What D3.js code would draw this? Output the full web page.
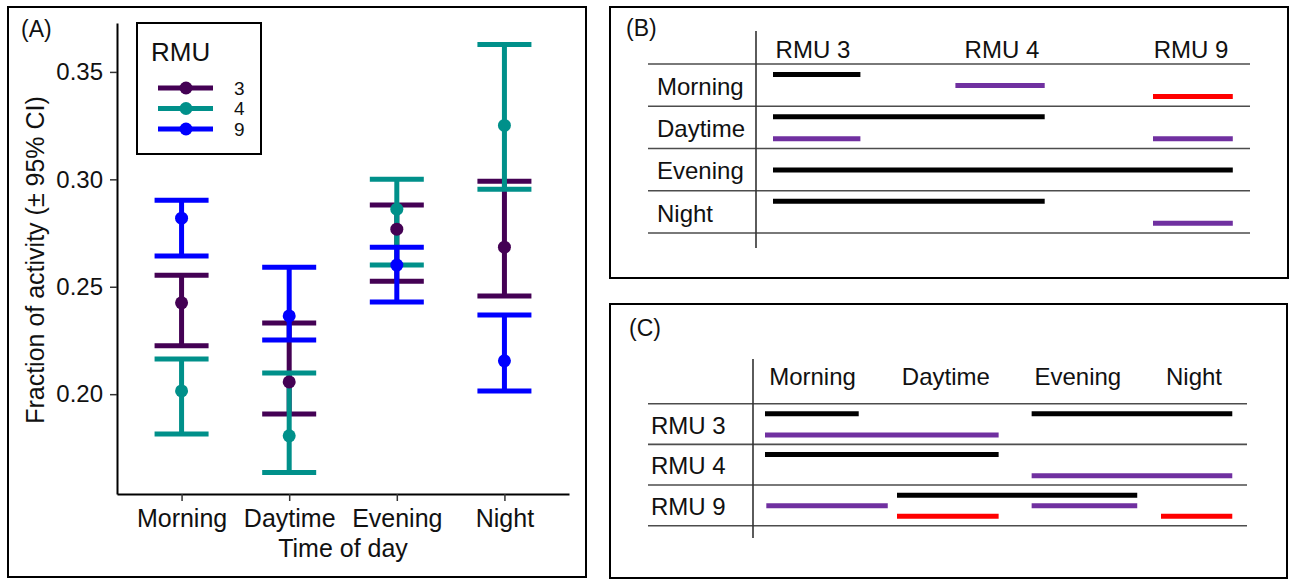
<!DOCTYPE html>
<html>
<head>
<meta charset="utf-8">
<script src="https://cdn.jsdelivr.net/npm/d3@7"></script>
<style>
  body { margin: 0; background: #fff; }
  svg { display: block; font-family: "Liberation Sans", Arial, sans-serif; }
</style>
</head>
<body>
<svg id="chart" width="1295" height="579"></svg>
<script>
// ---- data (A): fraction of activity, mean and 95% CI ----
const timeOfDay = ['Morning', 'Daytime', 'Evening', 'Night'];
const rmuIds = ['3', '4', '9'];
const yTicks = [0.20, 0.25, 0.30, 0.35];

const mean3  = [0.2425, 0.2057, 0.2768, 0.2684];
const lower3 = [0.2225, 0.1908, 0.2526, 0.2457];
const upper3 = [0.2554, 0.2331, 0.2880, 0.2991];

const mean4  = [0.2015, 0.1806, 0.2861, 0.3251];
const lower4 = [0.1815, 0.1635, 0.2601, 0.2954];
const upper4 = [0.2164, 0.2099, 0.3000, 0.3628];

const mean9  = [0.2819, 0.2364, 0.2601, 0.2155];
const lower9 = [0.2643, 0.2252, 0.2429, 0.2015];
const upper9 = [0.2903, 0.2591, 0.2684, 0.2368];

// ---- data (B): subsets per time of day, spans in RMU-column units ----
const bColumns = ['RMU 3', 'RMU 4', 'RMU 9'];
const bColumnAt = [0.21, 1.205, 2.2];
const bSegments = [
  { row: 'Morning', group: 'a', from: 0,    to: 0.46 },
  { row: 'Morning', group: 'b', from: 0.96, to: 1.43 },
  { row: 'Morning', group: 'c', from: 2.0,  to: 2.42 },
  { row: 'Daytime', group: 'a', from: 0,    to: 1.43 },
  { row: 'Daytime', group: 'b', from: 0,    to: 0.46 },
  { row: 'Daytime', group: 'b', from: 2.0,  to: 2.42 },
  { row: 'Evening', group: 'a', from: 0,    to: 2.42 },
  { row: 'Night',   group: 'a', from: 0,    to: 1.43 },
  { row: 'Night',   group: 'b', from: 2.0,  to: 2.42 }
];

// ---- data (C): subsets per RMU, spans in time-of-day column units ----
const cRows = ['RMU 3', 'RMU 4', 'RMU 9'];
const cColumnAt = [0.36, 1.37, 2.37, 3.25];
const cSegments = [
  { row: 'RMU 3', group: 'a', from: 0,    to: 0.71 },
  { row: 'RMU 3', group: 'a', from: 2.02, to: 3.54 },
  { row: 'RMU 3', group: 'b', from: 0,    to: 1.77 },
  { row: 'RMU 4', group: 'a', from: 0,    to: 1.77 },
  { row: 'RMU 4', group: 'b', from: 2.02, to: 3.54 },
  { row: 'RMU 9', group: 'a', from: 1.0,  to: 2.82 },
  { row: 'RMU 9', group: 'b', from: 0.01, to: 0.93 },
  { row: 'RMU 9', group: 'b', from: 2.02, to: 2.82 },
  { row: 'RMU 9', group: 'c', from: 1.0,  to: 1.77 },
  { row: 'RMU 9', group: 'c', from: 3.0,  to: 3.54 }
];

const svg = d3.select('#chart');
const txt = '#111';

// frames round the three panels
const frames = [[8, 7, 578, 570], [610, 7, 678, 271], [610, 304, 677, 274]];
svg.selectAll('rect.frame').data(frames).join('rect')
  .attr('class', 'frame')
  .attr('x', d => d[0]).attr('y', d => d[1])
  .attr('width', d => d[2]).attr('height', d => d[3])
  .attr('fill', 'none').attr('stroke', '#000').attr('stroke-width', 2);

// ================= Panel A =================
const series = rmuIds.map((id, k) => {
  const m = [mean3, mean4, mean9][k], lo = [lower3, lower4, lower9][k], hi = [upper3, upper4, upper9][k];
  return { id: id, values: timeOfDay.map((t, i) => ({ time: t, mean: m[i], lo: lo[i], hi: hi[i] })) };
});

const allVals = series.flatMap(s => s.values.flatMap(v => [v.lo, v.hi]));
const [vMin, vMax] = d3.extent(allVals);
const pad = (vMax - vMin) * 0.05;

const x = d3.scalePoint().domain(timeOfDay).range([117, 569]).padding(0.6);
const y = d3.scaleLinear().domain([vMin - pad, vMax + pad]).range([494, 23]);
const colour = d3.scaleOrdinal().domain(rmuIds).range(['#440154', '#00908a', '#0000ff']);

const gA = svg.append('g');

const yAxis = gA.append('g')
  .attr('transform', 'translate(117,0)')
  .call(d3.axisLeft(y).tickValues(yTicks).tickFormat(d3.format('.2f')).tickSize(7).tickSizeOuter(0).tickPadding(7));
const xAxis = gA.append('g')
  .attr('transform', 'translate(0,494)')
  .call(d3.axisBottom(x).tickSize(7).tickSizeOuter(0).tickPadding(8));

[yAxis, xAxis].forEach(ax => {
  ax.select('.domain').attr('stroke', '#000').attr('stroke-width', 2);
  ax.selectAll('.tick line').attr('stroke', '#333').attr('stroke-width', 1.5);
  ax.selectAll('.tick text').attr('fill', txt)
    .style('font-family', '"Liberation Sans", Arial, sans-serif');
});
yAxis.selectAll('.tick text').style('font-size', '24px');
xAxis.selectAll('.tick text').style('font-size', '25px');

gA.append('text')
  .attr('x', 343).attr('y', 557).attr('text-anchor', 'middle')
  .attr('fill', txt).style('font-size', '25px')
  .text('Time of day');

gA.append('text')
  .attr('transform', 'translate(44,260) rotate(-90)')
  .attr('text-anchor', 'middle')
  .attr('fill', txt).style('font-size', '25px')
  .text('Fraction of activity (± 95% CI)');

gA.append('text')
  .attr('x', 21).attr('y', 37)
  .attr('fill', txt).style('font-size', '23px')
  .text('(A)');

// error bars first, then the points on top
const capHalf = 27;
const bars = gA.append('g').selectAll('g').data(series).join('g')
  .attr('stroke', d => colour(d.id)).attr('stroke-width', 5).attr('fill', 'none');
bars.selectAll('path').data(d => d.values).join('path')
  .attr('d', v => {
    const cx = x(v.time), y0 = y(v.lo), y1 = y(v.hi);
    return `M${cx - capHalf},${y1}H${cx + capHalf}M${cx},${y1}V${y0}M${cx - capHalf},${y0}H${cx + capHalf}`;
  });

gA.append('g').selectAll('g').data(series).join('g')
  .attr('fill', d => colour(d.id))
  .selectAll('circle').data(d => d.values).join('circle')
  .attr('cx', v => x(v.time)).attr('cy', v => y(v.mean)).attr('r', 6.5);

// legend
const lg = gA.append('g');
lg.append('rect').attr('x', 137).attr('y', 23).attr('width', 124).attr('height', 131)
  .attr('fill', '#fff').attr('stroke', '#000').attr('stroke-width', 2);
lg.append('text').attr('x', 151).attr('y', 61).attr('fill', txt).style('font-size', '26px').text('RMU');
const keyY = d3.scalePoint().domain(rmuIds).range([88, 129]);
const keys = lg.selectAll('g.key').data(rmuIds).join('g').attr('class', 'key');
keys.append('line')
  .attr('x1', 158).attr('x2', 213).attr('y1', d => keyY(d)).attr('y2', d => keyY(d))
  .attr('stroke', d => colour(d)).attr('stroke-width', 5);
keys.append('circle').attr('cx', 186).attr('cy', d => keyY(d)).attr('r', 6.5).attr('fill', d => colour(d));
keys.append('text').attr('x', 234).attr('y', d => keyY(d)).attr('dy', '0.36em')
  .attr('fill', txt).style('font-size', '19px').text(d => d);

// ================= Panels B and C (subset tables) =================
const groupColour = d3.scaleOrdinal().domain(['a', 'b', 'c']).range(['#000000', '#7030a0', '#ff0000']);

function subsetTable(opt) {
  const g = svg.append('g');
  const yRow = d3.scaleBand().domain(opt.rows).range(opt.rowRange);
  const xs = d3.scaleLinear().domain(opt.xDomain).range(opt.xRange);

  // horizontal rules: header line plus one under each row
  const rules = [opt.rowRange[0]].concat(opt.rows.map(r => yRow(r) + yRow.bandwidth()));
  g.selectAll('line.rule').data(rules).join('line')
    .attr('x1', opt.ruleX[0]).attr('x2', opt.ruleX[1])
    .attr('y1', d => d).attr('y2', d => d)
    .attr('stroke', '#4d4d4d').attr('stroke-width', 1.6);
  g.append('line')
    .attr('x1', opt.divider[0]).attr('x2', opt.divider[0])
    .attr('y1', opt.divider[1]).attr('y2', opt.divider[2])
    .attr('stroke', '#333').attr('stroke-width', 1.6);

  g.selectAll('text.head').data(opt.columns).join('text')
    .attr('x', (d, i) => xs(opt.columnAt[i])).attr('y', opt.headY).attr('dy', '0.36em')
    .attr('text-anchor', 'middle').attr('fill', txt).style('font-size', '24px')
    .text(d => d);
  g.selectAll('text.rowlab').data(opt.rows).join('text')
    .attr('x', opt.rowLabelX).attr('y', d => yRow(d) + yRow.bandwidth() / 2 + 1).attr('dy', '0.36em')
    .attr('fill', txt).style('font-size', '24px')
    .text(d => d);
  g.append('text').attr('x', opt.tag[0]).attr('y', opt.tag[1])
    .attr('fill', txt).style('font-size', '23px').text(opt.tag[2]);

  // segment level inside its row depends on how many subsets the row has
  const byRow = d3.group(opt.segments, d => d.row);
  g.selectAll('line.seg').data(opt.segments).join('line')
    .attr('x1', d => xs(d.from)).attr('x2', d => xs(d.to))
    .attr('y1', d => levelY(d)).attr('y2', d => levelY(d))
    .attr('stroke', d => groupColour(d.group)).attr('stroke-width', 5);

  function levelY(d) {
    const groups = Array.from(new Set(byRow.get(d.row).map(s => s.group))).sort();
    const lev = d3.scalePoint().domain(groups).range([0.25, 0.77]);
    return yRow(d.row) + lev(d.group) * yRow.bandwidth();
  }
}

subsetTable({
  rows: timeOfDay, rowRange: [64, 233], columns: bColumns, columnAt: bColumnAt,
  xDomain: [0, 3], xRange: [773, 1343], segments: bSegments,
  ruleX: [648, 1250], divider: [756, 31, 248], headY: 49, rowLabelX: 657,
  tag: [626, 36, '(B)']
});

subsetTable({
  rows: cRows, rowRange: [403.7, 525.7], columns: timeOfDay, columnAt: cColumnAt,
  xDomain: [0, 4], xRange: [765, 1293], segments: cSegments,
  ruleX: [648, 1247], divider: [753, 359, 538], headY: 376, rowLabelX: 651,
  tag: [629, 336, '(C)']
});
</script>
</body>
</html>
